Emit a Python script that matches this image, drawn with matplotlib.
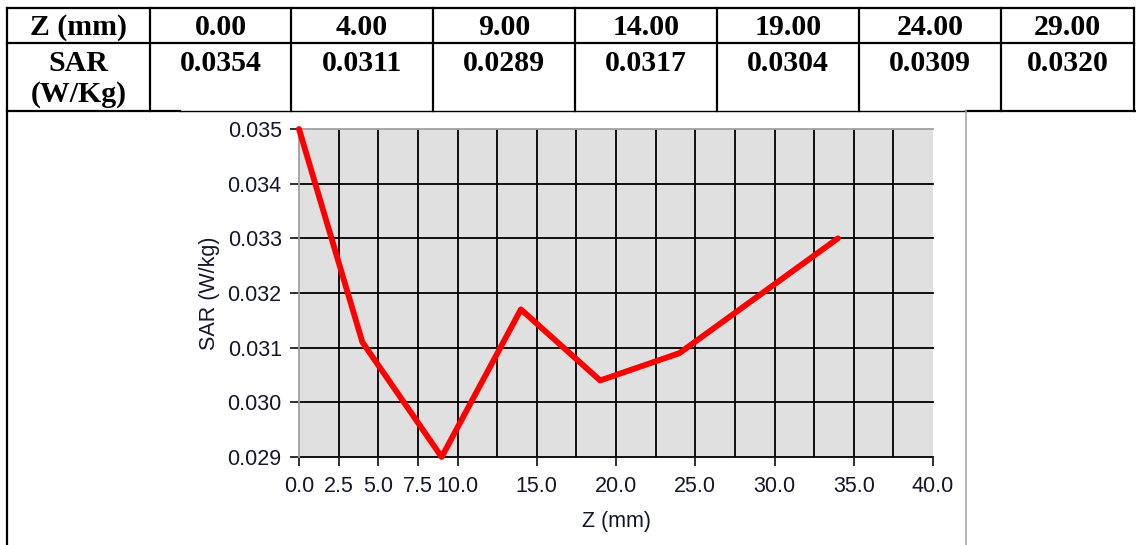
import matplotlib
matplotlib.use("Agg")
import matplotlib.pyplot as plt
import numpy as np

# ---------------- data ----------------
table_header = "Z (mm)"
table_rowlabel = ["SAR", "(W/Kg)"]
z_table = ["0.00", "4.00", "9.00", "14.00", "19.00", "24.00", "29.00"]
sar_table = ["0.0354", "0.0311", "0.0289", "0.0317", "0.0304", "0.0309", "0.0320"]

# values as drawn in the chart
z_chart = [0, 4, 9, 14, 19, 24, 34]
sar_chart = [0.0350, 0.0311, 0.0290, 0.0317, 0.0304, 0.0309, 0.0330]

x_ticks = [0, 2.5, 5, 7.5, 10, 15, 20, 25, 30, 35, 40]
x_ticklabels = ["0.0", "2.5", "5.0", "7.5", "10.0", "15.0", "20.0", "25.0", "30.0", "35.0", "40.0"]
y_ticks = [0.029, 0.030, 0.031, 0.032, 0.033, 0.034, 0.035]
y_ticklabels = ["0.029", "0.030", "0.031", "0.032", "0.033", "0.034", "0.035"]

# ---------------- figure ----------------
W, H = 1136, 545
fig = plt.figure(figsize=(W / 100, H / 100), dpi=100)
fig.patch.set_facecolor("white")

# overlay in pixel coordinates for the table
ov = fig.add_axes([0, 0, 1, 1])
ov.set_xlim(0, W)
ov.set_ylim(H, 0)
ov.axis("off")

lw_tab = 1.6
col_edges = [7, 150, 291, 433, 575, 717, 859, 1001, 1134]
row_y = [8, 43, 111]
for y in row_y[:2]:
    ov.plot([col_edges[0], col_edges[-1]], [y, y], color="black", lw=lw_tab, solid_capstyle="projecting")
# bottom table line (partly covered by chart image)
ov.plot([7, 180], [111, 111], color="black", lw=lw_tab)
ov.plot([180, 966], [111, 111], color="black", lw=1.0)
ov.plot([966, W], [111, 111], color="black", lw=lw_tab)
for x in col_edges[1:]:
    ov.plot([x, x], [8, 111], color="black", lw=lw_tab)
ov.plot([7, 7], [8, H], color="black", lw=lw_tab)
ov.plot([966, 966], [111, H], color="#a8a8a8", lw=1.2)

tfont = dict(family="Liberation Serif", weight="bold", size=21.5, color="black")
centers = [(col_edges[i] + col_edges[i + 1]) / 2 for i in range(len(col_edges) - 1)]
ov.text(centers[0], 35, table_header, ha="center", va="baseline", **tfont)
ov.text(centers[0], 71, table_rowlabel[0], ha="center", va="baseline", **tfont)
ov.text(centers[0], 102, table_rowlabel[1], ha="center", va="baseline", **tfont)
for c, zt, st in zip(centers[1:], z_table, sar_table):
    ov.text(c, 35, zt, ha="center", va="baseline", **tfont)
    ov.text(c, 71, st, ha="center", va="baseline", **tfont)

# ---------------- chart ----------------
L, R, T, B = 299, 933, 129, 457
ax = fig.add_axes([L / W, (H - B) / H, (R - L) / W, (B - T) / H])
ax.set_facecolor("#e0e0e0")
ax.set_xlim(0, 40)
ax.set_ylim(0.029, 0.035)

for x in np.arange(2.5, 40, 2.5):
    ax.axvline(x, color="black", lw=1.3, zorder=1)
for y in y_ticks[:-1]:
    ax.axhline(y, color="black", lw=1.3, zorder=1, clip_on=False)

ax.plot(z_chart, sar_chart, color="#ff0000", lw=4.2, zorder=3, clip_on=False,
        solid_joinstyle="round", solid_capstyle="round")

for s in ["bottom", "right"]:
    ax.spines[s].set_visible(False)
for s in ["left", "top"]:
    ax.spines[s].set_color("#a0a0a0")
    ax.spines[s].set_linewidth(1.3)

tick_color = "#15152a"
lab_font = "Liberation Sans"
fs = 15.5
ax.set_xticks(x_ticks)
ax.set_xticklabels(x_ticklabels, family=lab_font)
ax.set_yticks(y_ticks)
ax.set_yticklabels(y_ticklabels, family=lab_font)
ax.tick_params(axis="x", direction="out", length=6.5, width=1.3, color="#202020",
               pad=7, labelsize=fs, labelcolor=tick_color)
ax.tick_params(axis="y", direction="out", length=6.5, width=1.3, color="#202020",
               pad=6, labelsize=fs, labelcolor=tick_color)

ax.set_xlabel("Z (mm)", fontsize=fs, family=lab_font, color=tick_color, va="center")
ax.xaxis.set_label_coords(0.5, -(522 - B) / (B - T))
ax.set_ylabel("SAR (W/kg)", fontsize=fs, family=lab_font, color=tick_color, va="center")
ax.yaxis.set_label_coords(-(L - 209) / (R - L), 0.5)

fig.savefig("out.png", dpi=100, facecolor="white")
